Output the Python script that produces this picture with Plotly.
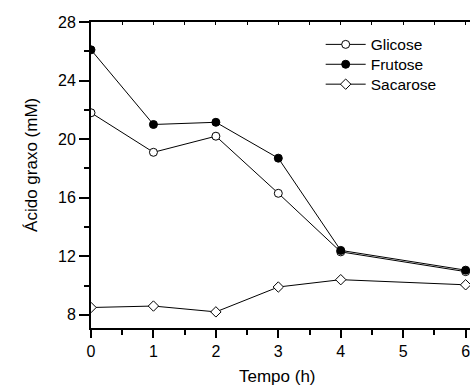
import plotly.graph_objects as go

tempo = [0, 1, 2, 3, 4, 6]
glicose = [21.8, 19.1, 20.2, 16.3, 12.3, 10.95]
frutose = [26.1, 21.0, 21.15, 18.7, 12.4, 11.05]
sacarose = [8.5, 8.6, 8.2, 9.9, 10.4, 10.05]
y_ticks = [8, 12, 16, 20, 24, 28]
x_ticks = [0, 1, 2, 3, 4, 5, 6]

FONT = "Liberation Sans, Arial, sans-serif"

fig = go.Figure()
fig.add_trace(go.Scatter(x=tempo, y=glicose, name="Glicose", mode="lines+markers",
                         legend="legend",
                         line=dict(color="black", width=1),
                         marker=dict(symbol="circle", size=8, color="white",
                                     line=dict(color="black", width=1))))
fig.add_trace(go.Scatter(x=tempo, y=frutose, name="Frutose", mode="lines+markers",
                         legend="legend2",
                         line=dict(color="black", width=1),
                         marker=dict(symbol="circle", size=8, color="black",
                                     line=dict(color="black", width=1))))
fig.add_trace(go.Scatter(x=tempo, y=sacarose, name="Sacarose", mode="lines+markers",
                         legend="legend3",
                         line=dict(color="black", width=1),
                         marker=dict(symbol="diamond", size=8, color="white",
                                     line=dict(color="black", width=1))))
# invisible trace to carry the top axis with small inside ticks
fig.add_trace(go.Scatter(x=[tempo[0]], y=[y_ticks[0]], xaxis="x2", mode="markers",
                         marker=dict(opacity=0), showlegend=False, hoverinfo="skip"))

leg_common = dict(xanchor="left", yanchor="top", bgcolor="rgba(0,0,0,0)",
                  font=dict(size=15.5), itemwidth=40)

fig.update_layout(
    width=470, height=385,
    margin=dict(l=91, r=0, t=22, b=57),
    paper_bgcolor="white", plot_bgcolor="white",
    font=dict(family=FONT, size=16, color="black"),
    showlegend=True,
    legend=dict(x=0.606, y=0.981, **leg_common),
    legend2=dict(x=0.606, y=0.916, **leg_common),
    legend3=dict(x=0.606, y=0.851, **leg_common),
    xaxis=dict(range=[0, 6.07], tickvals=x_ticks, showgrid=False, zeroline=False,
               automargin=False, ticklabeloverflow="allow",
               showline=True, linecolor="black", linewidth=2, mirror=True,
               ticks="outside", ticklen=8, tickwidth=2, tickcolor="black",
               tickfont=dict(size=16),
               minor=dict(ticks="outside", ticklen=5, tickwidth=2, dtick=0.5, tick0=0,
                          tickcolor="black", showgrid=False)),
    xaxis2=dict(range=[0, 6.07], overlaying="x", side="top", showgrid=False,
                zeroline=False, automargin=False, showline=False,
                ticks="inside", ticklen=3, tickwidth=1, tickcolor="black",
                dtick=0.5, tick0=0, showticklabels=False),
    yaxis=dict(range=[7.1, 28], tickvals=y_ticks, showgrid=False, zeroline=False,
               automargin=False,
               showline=True, linecolor="black", linewidth=2,
               ticks="outside", ticklen=10, tickwidth=2, tickcolor="black",
               tickfont=dict(size=16),
               minor=dict(ticks="outside", ticklen=5, tickwidth=2, dtick=2, tick0=8,
                          tickcolor="black", showgrid=False)),
    annotations=[
        dict(text="Ácido graxo (mM)", textangle=-90, xref="paper", yref="paper",
             x=-0.1557, y=0.533, xanchor="center", yanchor="middle",
             showarrow=False, font=dict(size=17)),
        dict(text="Tempo (h)", xref="paper", yref="paper",
             x=0.4934, y=-0.157, xanchor="center", yanchor="middle",
             showarrow=False, font=dict(size=17)),
    ],
)

fig.write_html("out.html",
               config={"displayModeBar": False},
               post_script="document.body.style.margin='0';"
                           "document.body.style.overflow='hidden';")
